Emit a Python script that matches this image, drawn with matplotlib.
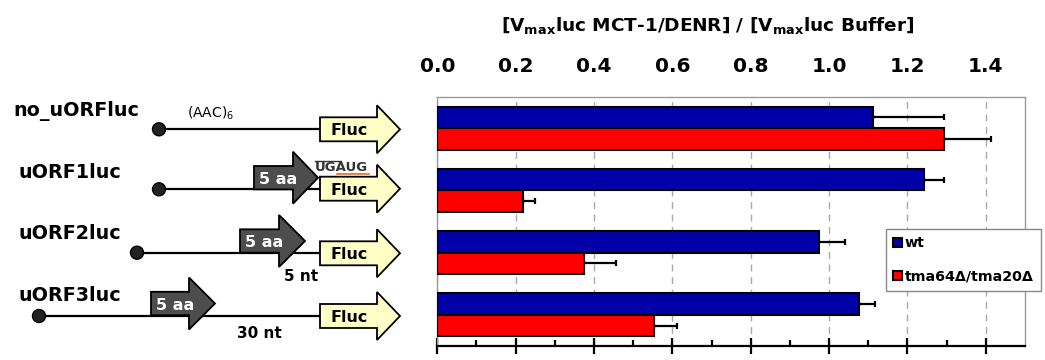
import matplotlib
matplotlib.use('Agg')
import matplotlib.pyplot as plt
import numpy as np
from matplotlib.patches import Polygon, Circle

plt.rcParams['font.family'] = ['DejaVu Sans']
plt.rcParams['mathtext.fontset'] = 'dejavusans'

constructs = ['no_uORFluc', 'uORF1luc', 'uORF2luc', 'uORF3luc']
wt = [1.113, 1.243, 0.974, 1.077]
wt_err = [0.181, 0.051, 0.067, 0.040]
tma = [1.292, 0.218, 0.375, 0.552]
tma_err = [0.121, 0.031, 0.081, 0.061]
series_names = ['wt', 'tma64Δ/tma20Δ']
xticks = [0.0, 0.2, 0.4, 0.6, 0.8, 1.0, 1.2, 1.4]

W, H = 1045, 360
fig = plt.figure(figsize=(W / 100, H / 100), dpi=100)

# ---- schematic on the left, drawn in pixel space ----
ax0 = fig.add_axes([0, 0, 1, 1])
ax0.set_xlim(0, W)
ax0.set_ylim(H, 0)
ax0.axis('off')


def arrow(ax, x0, xb, xt, yc, hb, hh, fc):
    pts = [(x0, yc - hb), (xb, yc - hb), (xb, yc - hh), (xt, yc),
           (xb, yc + hh), (xb, yc + hb), (x0, yc + hb)]
    ax.add_patch(Polygon(pts, closed=True, fc=fc, ec='black', lw=1.3, zorder=3))


# rows: label x, label baseline, line y, circle x, gray arrow (left, right, tip, center) or None
rows = [
    (13, 116, 129.3, 159, None),
    (18, 177.7, 189.3, 159, (254, 293, 318, 177.7)),
    (18, 239.3, 252.7, 137, (240, 279, 305, 241)),
    (18, 301, 316, 39, (151, 189, 215, 303.5)),
]
fluc_y = [129.3, 188.7, 253.3, 316]

for name, (lx, lb, ly, cx, g), fy in zip(constructs, rows, fluc_y):
    ax0.text(lx, lb, name, fontsize=13.8, fontweight='bold', va='baseline', ha='left')
    ax0.plot([cx, 320], [ly, ly], color='black', lw=1.6, zorder=2)
    ax0.add_patch(Circle((cx, ly), 6.5, fc='#222222', ec='black', zorder=4))
    arrow(ax0, 320, 377, 400, fy, 12, 24, '#FFFFC8')
    ax0.text(349, fy + 6, 'Fluc', fontsize=11.5, fontweight='bold', ha='center', va='baseline', zorder=5)
    if g is not None:
        x0, xb, xt, yc = g
        arrow(ax0, x0, xb, xt, yc, 11.7, 26, '#4d4d4d')
        ax0.text((x0 + xb) / 2 + 5, yc + 6, '5 aa', fontsize=11.5, fontweight='bold',
                 color='white', ha='center', va='baseline', zorder=5)

ax0.text(187, 118, r'(AAC)$_6$', fontsize=10, ha='left', va='baseline')
ax0.text(315, 170.7, 'UGAUG', fontsize=9.5, fontweight='bold', color='#333333', ha='left', va='baseline')
ax0.plot([315, 341], [160.5, 160.5], color='#333333', lw=1)
ax0.plot([337, 369], [173.5, 173.5], color='#E07020', lw=1.2)
ax0.text(301, 281, '5 nt', fontsize=11, fontweight='bold', ha='center', va='baseline')
ax0.text(259, 338, '30 nt', fontsize=11, fontweight='bold', ha='center', va='baseline')

# ---- bar chart ----
ax = fig.add_axes([437.3 / W, 1 - 345.7 / H, (1025 - 437.3) / W, (345.7 - 97.3) / H])
y = np.arange(len(constructs))
h = 0.35
ax.barh(y - h / 2, wt, height=h, color='#0000A8', edgecolor='black', lw=1.5,
        label=series_names[0], zorder=3)
ax.barh(y + h / 2, tma, height=h, color='#FF0000', edgecolor='black', lw=1.5,
        label=series_names[1], zorder=3)
ax.errorbar(wt, y - h / 2, xerr=[np.zeros(len(wt)), wt_err], fmt='none', ecolor='black',
            elinewidth=1.6, capsize=2.5, capthick=1.6, zorder=4)
ax.errorbar(tma, y + h / 2, xerr=[np.zeros(len(tma)), tma_err], fmt='none', ecolor='black',
            elinewidth=1.6, capsize=2.5, capthick=1.6, zorder=4)

ax.set_xlim(0, 1.5)
ax.set_ylim(len(constructs) - 0.5, -0.5)
ax.set_yticks([])
ax.set_xticks(xticks)
ax.set_xticklabels([f'{v:.1f}' for v in xticks], fontsize=14.5, fontweight='bold')
ax.set_xticks(np.arange(0.1, 1.5, 0.2), minor=True)
ax.tick_params(axis='x', which='major', direction='inout', length=11, width=1.6,
               top=False, labeltop=True, bottom=True, labelbottom=False, pad=10)
ax.tick_params(axis='x', which='minor', direction='in', length=4, width=1.6, top=False)
ax.grid(axis='x', which='major', linestyle=(0, (5, 4)), color='#aaaaaa', lw=1, zorder=0)
for s in ['top', 'right', 'left']:
    ax.spines[s].set_color('#999999')
    ax.spines[s].set_linewidth(1)
ax.spines['bottom'].set_linewidth(1.6)

fig.text(708 / W, 1 - 25 / H, r'[V$_{\mathbf{max}}$luc MCT-1/DENR] / [V$_{\mathbf{max}}$luc Buffer]',
         fontsize=13.3, fontweight='bold', ha='center', va='center')

leg = ax.legend(loc='upper left', bbox_to_anchor=(886 / W, 1 - 229 / H),
                bbox_transform=fig.transFigure, borderaxespad=0, frameon=True,
                fancybox=False, edgecolor='#888888', framealpha=1,
                prop={'weight': 'bold', 'size': 10.3}, handlelength=0.6, handleheight=0.6,
                handletextpad=0.2, labelspacing=1.35, borderpad=0.5)
leg.get_frame().set_linewidth(1)

fig.savefig('out.png', dpi=100)
